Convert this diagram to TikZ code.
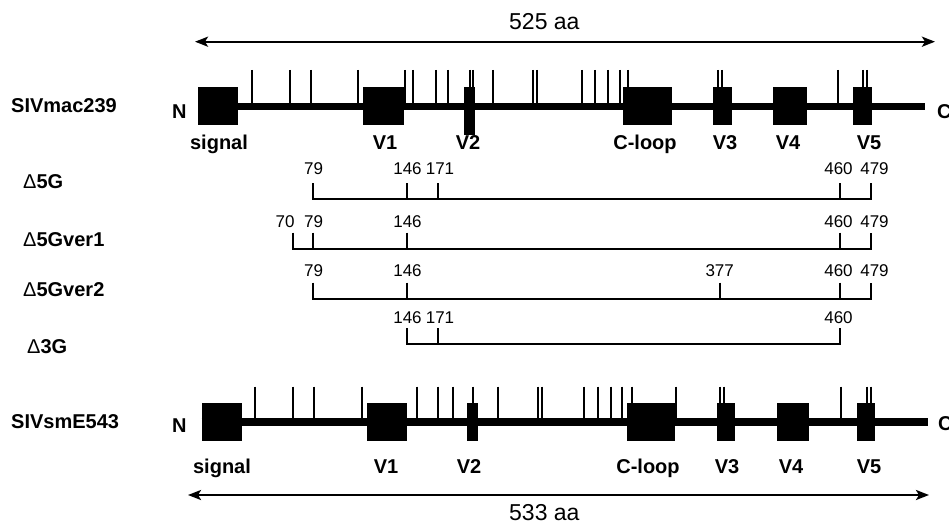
\documentclass[tikz,border=0pt]{standalone}
\usepackage{fontspec}
\setmainfont{Liberation Sans}
\usetikzlibrary{arrows.meta}
\tikzset{
 lbl/.style={font=\fontsize{20}{24}\selectfont\bfseries, inner sep=0pt, anchor=base},
 rowlbl/.style={lbl, anchor=base west},
 num/.style={font=\fontsize{17}{20}\selectfont, inner sep=0pt},
 lenlbl/.style={font=\fontsize{23}{27}\selectfont, inner sep=0pt, anchor=base west},
 barline/.style={line width=7.4pt},
 tk/.style={line width=1.8pt},
 brk/.style={line width=2.3pt, line join=miter},
 dimline/.style={line width=2.3pt, {Stealth[length=13pt,width=10pt,inset=3pt]}-{Stealth[length=13pt,width=10pt,inset=3pt]}},
}
\begin{document}
\begin{tikzpicture}[x=1pt,y=-1pt]
\useasboundingbox (0,0) rectangle (949,524);
\fill[white] (0,0) rectangle (949,524);

% ---------- top length arrow ----------
\coordinate (tl) at (195,41.7);
\coordinate (tr) at (935,41.7);
\draw[dimline] (tl) -- (tr);
\node[lenlbl] (len525) at (509,29.5) {525 aa};

% ---------- SIVmac239 ----------
\node[rowlbl] (mac) at (11,113) {SIVmac239};
\node[rowlbl] (macN) at (172,118) {N};
\node[rowlbl] (macC) at (937,118) {C};
\coordinate (macL) at (198.3,106.3);
\coordinate (macR) at (925,106.3);
\draw[barline] (macL) -- (macR);
\foreach \x in {251.7,290,311,358.3,405,413.3,435.7,447.7,470,473.3,493.3,533.3,536.7,581.7,595,608.3,620,628.3,718.3,721.7,837.7,862.7,866.7}
  \draw[tk] (\x,70) -- (\x,106);
\fill (198.3,87.3) rectangle (238.3,125);
\fill (363,87.3) rectangle (404,125);
\fill (464,87.3) rectangle (475,135);
\fill (623.3,87.3) rectangle (671.7,125);
\fill (713.3,87.3) rectangle (732.3,125);
\fill (773.3,87.3) rectangle (806.7,125);
\fill (853.3,87.3) rectangle (871.7,125);
\node[lbl] (ts) at (219,149.5) {signal};
\node[lbl] (tv1) at (385,149.5) {V1};
\node[lbl] (tv2) at (468,149.5) {V2};
\node[lbl] (tcl) at (645,149.5) {C-loop};
\node[lbl] (tv3) at (725,149.5) {V3};
\node[lbl] (tv4) at (788,149.5) {V4};
\node[lbl] (tv5) at (869,149.5) {V5};

% ---------- deletion constructs ----------
\node[rowlbl] (d5g) at (23,188.3) {{\mdseries Δ}5G};
\node[rowlbl] (d5g1) at (23,246.5) {{\mdseries Δ}5Gver1};
\node[rowlbl] (d5g2) at (23,296.5) {{\mdseries Δ}5Gver2};
\node[rowlbl] (d3g) at (27,353) {{\mdseries Δ}3G};

% row 1
\draw[brk] (313.3,183.3) -- (313.3,199.3) -- (870.7,199.3) -- (870.7,183.3);
\foreach \x in {407.3,437.7,840} \draw[brk] (\x,183.3) -- (\x,199.3);
\node[num] (r1a) at (313.5,169) {79};
\node[num] (r1b) at (407.5,169) {146};
\node[num] (r1c) at (440,169) {171};
\node[num] (r1d) at (838.5,169) {460};
\node[num] (r1e) at (874.5,169) {479};

% row 2
\draw[brk] (292.7,232.7) -- (292.7,249) -- (870.7,249) -- (870.7,232.7);
\foreach \x in {313.3,407.3,840} \draw[brk] (\x,232.7) -- (\x,249);
\node[num] (r2z) at (285,222) {70};
\node[num] (r2a) at (313.5,222) {79};
\node[num] (r2b) at (407.5,222) {146};
\node[num] (r2d) at (838.5,222) {460};
\node[num] (r2e) at (874.5,222) {479};

% row 3
\draw[brk] (313.3,282.7) -- (313.3,299) -- (870.7,299) -- (870.7,282.7);
\foreach \x in {407.3,720,840} \draw[brk] (\x,282.7) -- (\x,299);
\node[num] (r3a) at (313.5,270.5) {79};
\node[num] (r3b) at (407.5,270.5) {146};
\node[num] (r3c) at (719.7,270.5) {377};
\node[num] (r3d) at (838.5,270.5) {460};
\node[num] (r3e) at (874.5,270.5) {479};

% row 4
\draw[brk] (407.3,328.3) -- (407.3,344.3) -- (840,344.3) -- (840,328.3);
\draw[brk] (437.7,328.3) -- (437.7,344.3);
\node[num] (r4b) at (407.5,317.5) {146};
\node[num] (r4c) at (440,317.5) {171};
\node[num] (r4d) at (838.5,317.5) {460};

% ---------- SIVsmE543 ----------
\node[rowlbl] (sm) at (11,428) {SIVsmE543};
\node[rowlbl] (smN) at (172,432) {N};
\node[rowlbl] (smC) at (938,430) {C};
\coordinate (smL) at (201.7,422);
\coordinate (smR) at (928,422);
\draw[barline] (smL) -- (smR);
\foreach \x in {255,293.3,314,361.7,416.7,438.3,453.3,473.3,497.7,538.3,541.7,584.3,598.3,611,622.3,631.7,676,720,724,840.7,866.7,871}
  \draw[tk] (\x,386.7) -- (\x,422);
\fill (201.7,402.7) rectangle (241.7,440.7);
\fill (366.7,402.7) rectangle (406.7,440.7);
\fill (466.7,402.7) rectangle (478.3,440.7);
\fill (626.7,402.7) rectangle (675,440.7);
\fill (716.7,402.7) rectangle (735,440.7);
\fill (776.7,402.7) rectangle (809.3,440.7);
\fill (856.7,402.7) rectangle (875,440.7);
\node[lbl] (bs) at (222,473) {signal};
\node[lbl] (bv1) at (386,473) {V1};
\node[lbl] (bv2) at (469,473) {V2};
\node[lbl] (bcl) at (648,473) {C-loop};
\node[lbl] (bv3) at (727,473) {V3};
\node[lbl] (bv4) at (791,473) {V4};
\node[lbl] (bv5) at (869,473) {V5};

% ---------- bottom length arrow ----------
\coordinate (bl) at (188,495);
\coordinate (br) at (929,495);
\draw[dimline] (bl) -- (br);
\node[lenlbl] (len533) at (509,520.5) {533 aa};
\end{tikzpicture}
\end{document}
